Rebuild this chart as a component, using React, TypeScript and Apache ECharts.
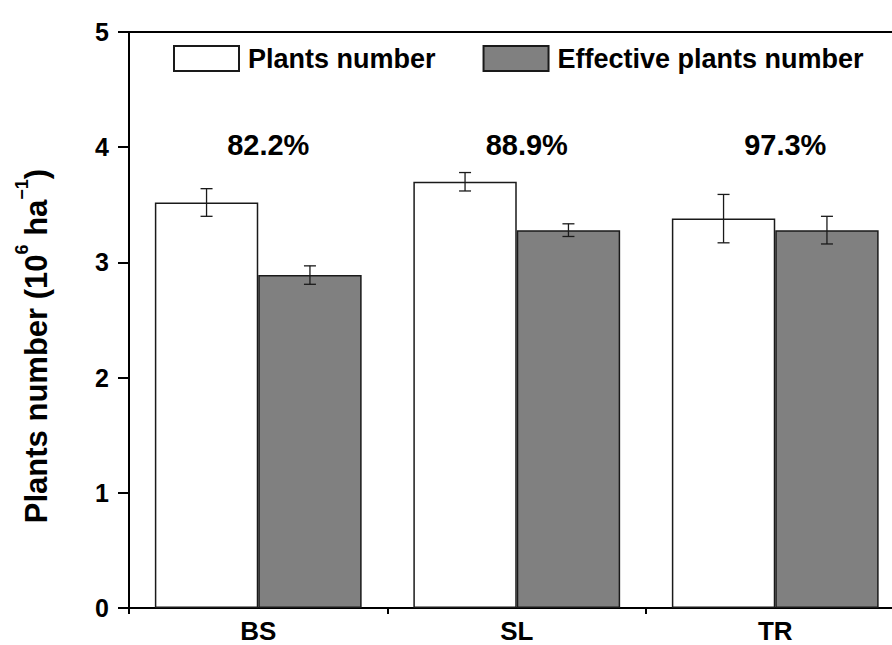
import React, { useEffect, useRef } from "react";
import * as echarts from "echarts";

const categories = ["BS", "SL", "TR"];
const plantsNumber = [3.52, 3.7, 3.38];
const plantsErr = [0.12, 0.08, 0.21];
const effectiveNumber = [2.89, 3.28, 3.28];
const effectiveErr = [0.08, 0.055, 0.12];
const ratioLabels = ["82.2%", "88.9%", "97.3%"];
const yTicks = [0, 1, 2, 3, 4, 5];

const FONT = '"Liberation Sans", Arial, sans-serif';

export default function App() {
  const ref = useRef<HTMLDivElement>(null);
  useEffect(() => {
    document.body.style.margin = "0";
    const chart = echarts.init(ref.current!, null, { renderer: "svg" });

    const errRender = (offsetSign: number) => (params: any, api: any) => {
      const ci = api.value(0);
      const v = api.value(1);
      const e = api.value(2);
      const band = api.size([1, 0])[0];
      const c = api.coord([ci, v]);
      const x = c[0] + offsetSign * band * 0.2;
      const yt = api.coord([ci, v + e])[1];
      const yb = api.coord([ci, v - e])[1];
      const hw = 6;
      const st = { stroke: "#1a1a1a", lineWidth: 1.3 };
      return {
        type: "group",
        children: [
          { type: "line", shape: { x1: x, y1: yt, x2: x, y2: yb }, style: st },
          { type: "line", shape: { x1: x - hw, y1: yt, x2: x + hw, y2: yt }, style: st },
          { type: "line", shape: { x1: x - hw, y1: yb, x2: x + hw, y2: yb }, style: st },
        ],
      };
    };

    const labelLevel = 4.02;

    chart.setOption({
      animation: false,
      backgroundColor: "#fff",
      grid: {
        left: 129,
        top: 32,
        width: 775.5,
        bottom: 37,
        outerBoundsMode: "none",
        containLabel: false,
        show: true,
        borderColor: "#000",
        borderWidth: 2,
        backgroundColor: "transparent",
      },
      legend: {
        data: ["Plants number", "Effective plants number"],
        left: 168,
        top: 40,
        itemWidth: 65,
        itemHeight: 25,
        itemGap: 47,
        icon: "rect",
        formatter: "{a|{name}}",
        textStyle: {
          color: "#000",
          fontSize: 27,
          fontWeight: "bold",
          fontFamily: FONT,
          rich: {
            a: {
              padding: [0, 0, 0, 4],
              color: "#000",
              fontSize: 27,
              fontWeight: "bold",
              fontFamily: FONT,
            },
          },
        },
      },
      xAxis: {
        type: "category",
        data: categories,
        axisLine: { lineStyle: { color: "#000", width: 2 } },
        axisTick: { show: true, length: 6, lineStyle: { color: "#000", width: 2 } },
        axisLabel: {
          color: "#000",
          fontSize: 26,
          fontWeight: "bold",
          fontFamily: FONT,
          margin: 10,
        },
      },
      yAxis: {
        type: "value",
        min: yTicks[0],
        max: yTicks[yTicks.length - 1],
        interval: 1,
        splitLine: { show: false },
        axisLine: { show: true, lineStyle: { color: "#000", width: 2 } },
        axisTick: { show: true, length: 11, lineStyle: { color: "#000", width: 2 } },
        axisLabel: {
          color: "#000",
          fontSize: 25,
          fontWeight: "bold",
          fontFamily: FONT,
          margin: 20,
        },
        name: "{m|Plants number (10}{s|6}{m| ha}{s|−1}{e|)}",
        nameLocation: "middle",
        nameGap: 70,
        nameTextStyle: {
          color: "#000",
          fontFamily: FONT,
          fontWeight: "bold",
          rich: {
            m: { fontSize: 31, fontWeight: "bold", fontFamily: FONT, color: "#000", lineHeight: 46 },
            s: { fontSize: 18, fontWeight: "bold", fontFamily: FONT, color: "#000", verticalAlign: "top" },
            e: {
              fontSize: 31,
              fontWeight: "bold",
              fontFamily: FONT,
              color: "#000",
              lineHeight: 46,
              padding: [0, 52, 0, 0],
            },
          },
        },
      },
      series: [
        {
          name: "Plants number",
          type: "bar",
          data: plantsNumber,
          barWidth: "40%",
          barGap: "0%",
          barCategoryGap: "20%",
          itemStyle: { color: "#ffffff", borderColor: "#1a1a1a", borderWidth: 1.5 },
        },
        {
          name: "Effective plants number",
          type: "bar",
          data: effectiveNumber,
          barWidth: "40%",
          barGap: "0%",
          barCategoryGap: "20%",
          itemStyle: { color: "#808080", borderColor: "#1a1a1a", borderWidth: 1.5 },
        },
        {
          type: "custom",
          renderItem: errRender(-1),
          data: plantsNumber.map((v, i) => [i, v, plantsErr[i]]),
          z: 5,
        },
        {
          type: "custom",
          renderItem: errRender(1),
          data: effectiveNumber.map((v, i) => [i, v, effectiveErr[i]]),
          z: 5,
        },
        {
          type: "custom",
          data: ratioLabels.map((_, i) => [i, labelLevel]),
          renderItem: (params: any, api: any) => {
            const c = api.coord([api.value(0), api.value(1)]);
            return {
              type: "text",
              x: c[0] + 10,
              y: c[1],
              style: {
                text: ratioLabels[params.dataIndex],
                fill: "#000",
                fontSize: 29,
                fontWeight: "bold",
                fontFamily: FONT,
                align: "center",
                verticalAlign: "middle",
              },
            };
          },
          z: 5,
        },
      ],
    });
    return () => chart.dispose();
  }, []);
  return <div ref={ref} style={{ width: 892, height: 645 }} />;
}
